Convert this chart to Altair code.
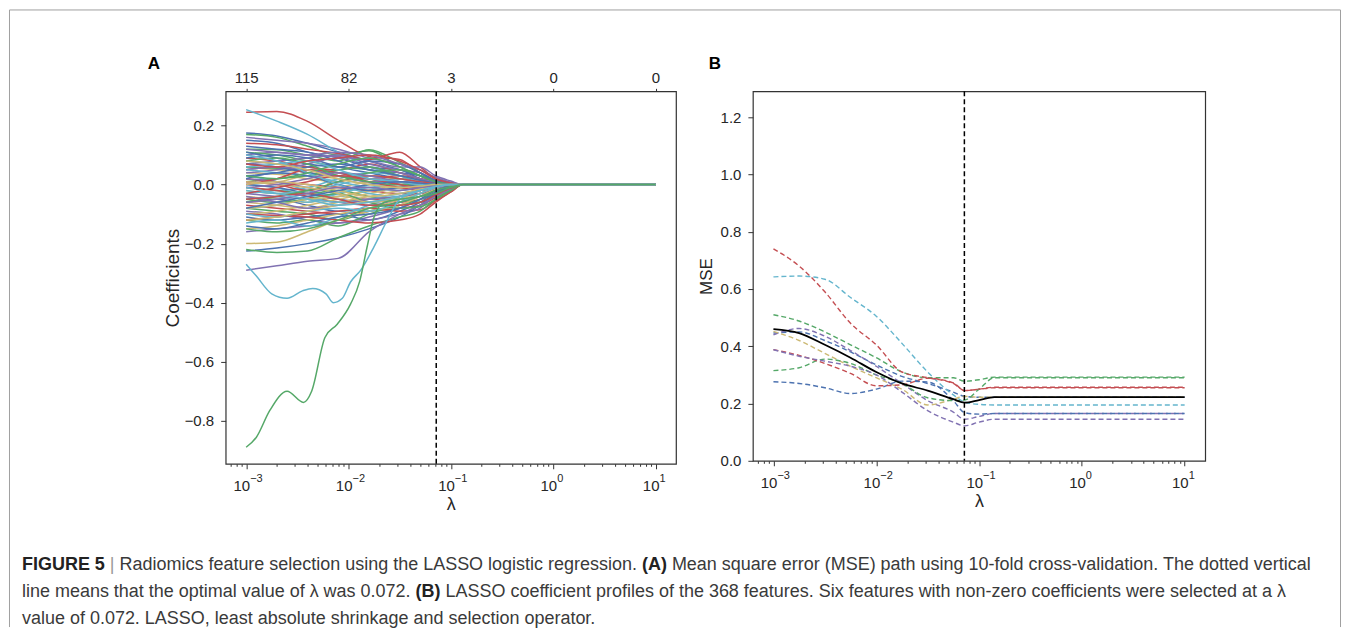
import altair as alt
import pandas as pd

# ---------------------------------------------------------------- data
PALETTE = ["#4C72B0", "#55A868", "#C44E52", "#8172B2", "#CCB974", "#64B5CD"]
DECADES = [0.001, 0.01, 0.1, 1, 10]
EXPONENTS = ["−3", "−2", "−1", "0", "1"]
TOP_COUNTS = ["115", "82", "3", "0", "0"]
LAMBDA_OPT = 0.072

# Panel A: coefficient paths, log10(lambda) grid shared by most paths
LOG_GRID_A = [-3.0, -2.7, -2.4, -2.1, -1.8, -1.5, -1.3, -1.15, -1.0, -0.88, 1.0]
COEF_PATHS = [
    [0.175, 0.165, 0.140, 0.110, 0.080, 0.050, 0.030, 0.010, 0.003, 0.0, 0.0],
    [0.170, 0.160, 0.130, 0.100, 0.115, 0.060, 0.030, 0.008, 0.002, 0.0, 0.0],
    [0.245, 0.248, 0.214, 0.150, 0.095, 0.085, 0.040, 0.012, 0.004, 0.0, 0.0],
    [0.160, 0.150, 0.140, 0.120, 0.090, 0.070, 0.050, 0.025, 0.008, 0.0, 0.0],
    [0.040, 0.035, 0.020, 0.010, 0.030, 0.020, 0.010, 0.003, 0.000, 0.0, 0.0],
    [0.254, 0.215, 0.170, 0.110, 0.060, 0.030, 0.010, 0.002, 0.000, 0.0, 0.0],
    [0.150, 0.140, 0.110, 0.090, 0.060, 0.050, 0.020, 0.005, 0.000, 0.0, 0.0],
    [0.120, 0.118, 0.100, 0.080, 0.118, 0.075, 0.040, 0.010, 0.002, 0.0, 0.0],
    [0.140, 0.135, 0.120, 0.105, 0.085, 0.110, 0.060, 0.020, 0.005, 0.0, 0.0],
    [0.100, 0.110, 0.100, 0.095, 0.080, 0.060, 0.060, 0.030, 0.012, 0.0, 0.0],
    [0.060, 0.050, 0.040, -0.010, -0.020, -0.010, -0.010, -0.005, 0.000, 0.0, 0.0],
    [0.080, 0.070, 0.060, 0.040, 0.020, 0.000, -0.010, -0.005, 0.000, 0.0, 0.0],
    [0.130, 0.120, 0.110, 0.080, 0.050, 0.040, 0.030, 0.010, 0.002, 0.0, 0.0],
    [0.110, 0.100, 0.080, 0.060, 0.050, 0.030, 0.020, 0.006, 0.000, 0.0, 0.0],
    [0.090, 0.080, 0.060, 0.050, 0.070, 0.040, 0.020, 0.008, 0.002, 0.0, 0.0],
    [0.070, 0.080, 0.090, 0.100, 0.070, 0.050, 0.040, 0.015, 0.004, 0.0, 0.0],
    [0.020, 0.010, 0.030, 0.020, 0.000, -0.010, -0.005, 0.000, 0.000, 0.0, 0.0],
    [0.030, 0.010, -0.020, -0.040, -0.020, 0.010, 0.005, 0.000, 0.000, 0.0, 0.0],
    [0.090, 0.100, 0.090, 0.060, 0.040, 0.020, 0.010, 0.003, 0.000, 0.0, 0.0],
    [0.060, 0.055, 0.050, 0.040, 0.030, 0.020, 0.015, 0.005, 0.000, 0.0, 0.0],
    [0.050, 0.060, 0.040, 0.030, 0.020, 0.030, 0.020, 0.010, 0.003, 0.0, 0.0],
    [0.040, 0.050, 0.070, 0.090, 0.060, 0.040, 0.020, 0.008, 0.002, 0.0, 0.0],
    [-0.020, -0.030, -0.020, -0.010, 0.010, 0.020, 0.010, 0.003, 0.000, 0.0, 0.0],
    [0.000, -0.010, -0.040, -0.030, 0.000, 0.020, 0.010, 0.000, 0.000, 0.0, 0.0],
    [0.070, 0.060, 0.040, 0.030, 0.020, 0.000, -0.010, -0.005, 0.000, 0.0, 0.0],
    [0.010, 0.020, 0.030, 0.050, 0.060, 0.030, 0.010, 0.000, 0.000, 0.0, 0.0],
    [0.020, 0.010, 0.000, -0.010, -0.020, -0.030, -0.030, -0.015, -0.004, 0.0, 0.0],
    [0.020, 0.010, -0.010, -0.030, -0.050, -0.040, -0.020, -0.008, 0.000, 0.0, 0.0],
    [-0.040, -0.050, -0.060, -0.040, -0.020, 0.000, 0.005, 0.000, 0.000, 0.0, 0.0],
    [-0.030, -0.020, -0.010, 0.020, 0.040, 0.030, 0.010, 0.002, 0.000, 0.0, 0.0],
    [0.000, -0.010, -0.030, -0.050, -0.060, -0.040, -0.030, -0.010, -0.002, 0.0, 0.0],
    [-0.010, -0.020, -0.030, -0.020, -0.040, -0.050, -0.060, -0.030, -0.010, 0.0, 0.0],
    [-0.010, -0.020, -0.040, -0.060, -0.050, -0.060, -0.050, -0.030, -0.010, 0.0, 0.0],
    [-0.030, -0.040, -0.050, -0.060, -0.070, -0.050, -0.040, -0.020, -0.006, 0.0, 0.0],
    [-0.060, -0.070, -0.080, -0.060, -0.040, -0.020, -0.010, -0.003, 0.000, 0.0, 0.0],
    [-0.050, -0.040, -0.060, -0.030, -0.010, 0.000, 0.000, 0.000, 0.000, 0.0, 0.0],
    [-0.060, -0.050, -0.070, -0.090, -0.080, -0.060, -0.040, -0.015, -0.004, 0.0, 0.0],
    [-0.080, -0.090, -0.100, -0.120, -0.090, -0.070, -0.050, -0.030, -0.010, 0.0, 0.0],
    [-0.070, -0.080, -0.090, -0.100, -0.090, -0.080, -0.070, -0.045, -0.020, 0.0, 0.0],
    [-0.090, -0.100, -0.120, -0.130, -0.110, -0.080, -0.050, -0.020, -0.005, 0.0, 0.0],
    [-0.100, -0.090, -0.070, -0.050, -0.030, -0.010, 0.000, 0.000, 0.000, 0.0, 0.0],
    [-0.080, -0.070, -0.050, -0.060, -0.050, -0.030, -0.020, -0.008, 0.000, 0.0, 0.0],
    [-0.110, -0.120, -0.110, -0.100, -0.120, -0.090, -0.060, -0.025, -0.008, 0.0, 0.0],
    [-0.120, -0.130, -0.120, -0.140, -0.100, -0.070, -0.060, -0.040, -0.015, 0.0, 0.0],
    [-0.120, -0.110, -0.100, -0.090, -0.080, -0.090, -0.085, -0.055, -0.025, 0.0, 0.0],
    [-0.160, -0.150, -0.140, -0.130, -0.120, -0.100, -0.080, -0.035, -0.012, 0.0, 0.0],
    [-0.150, -0.140, -0.120, -0.100, -0.080, -0.050, -0.020, -0.005, 0.000, 0.0, 0.0],
    [-0.130, -0.120, -0.140, -0.110, -0.070, -0.040, -0.020, -0.005, 0.000, 0.0, 0.0],
    [-0.225, -0.215, -0.200, -0.180, -0.150, -0.110, -0.070, -0.030, -0.010, 0.0, 0.0],
    [-0.220, -0.230, -0.225, -0.180, -0.140, -0.110, -0.090, -0.050, -0.020, 0.0, 0.0],
    [-0.100, -0.105, -0.110, -0.120, -0.130, -0.120, -0.100, -0.060, -0.025, 0.0, 0.0],
    [-0.290, -0.275, -0.260, -0.250, -0.160, -0.100, -0.070, -0.040, -0.015, 0.0, 0.0],
    [-0.200, -0.195, -0.160, -0.120, -0.090, -0.070, -0.040, -0.015, -0.004, 0.0, 0.0],
    [-0.020, -0.030, -0.020, 0.000, 0.020, 0.010, 0.000, 0.000, 0.000, 0.0, 0.0],
    [0.030, 0.040, 0.060, 0.070, 0.050, 0.030, 0.015, 0.005, 0.000, 0.0, 0.0],
    [-0.050, -0.060, -0.050, -0.030, -0.060, -0.080, -0.075, -0.050, -0.020, 0.0, 0.0],
    [0.010, 0.000, -0.020, 0.010, 0.030, 0.020, 0.010, 0.003, 0.000, 0.0, 0.0],
    [0.050, 0.060, 0.050, 0.030, 0.010, 0.010, 0.005, 0.000, 0.000, 0.0, 0.0],
    [-0.080, -0.070, -0.050, -0.040, -0.020, -0.010, 0.000, 0.000, 0.000, 0.0, 0.0],
    [0.050, 0.040, 0.030, 0.010, -0.010, -0.020, -0.010, -0.003, 0.000, 0.0, 0.0],
    [0.020, 0.040, 0.030, 0.000, -0.020, -0.010, 0.000, 0.000, 0.000, 0.0, 0.0],
    [-0.060, -0.040, -0.020, 0.010, 0.040, 0.050, 0.030, 0.010, 0.002, 0.0, 0.0],
    [0.000, 0.020, 0.050, 0.040, 0.010, -0.010, -0.020, -0.010, -0.003, 0.0, 0.0],
    [-0.040, -0.060, -0.080, -0.070, -0.050, -0.040, -0.030, -0.012, -0.003, 0.0, 0.0],
    [0.010, 0.000, -0.010, -0.030, -0.060, -0.050, -0.030, -0.010, 0.000, 0.0, 0.0],
    [-0.100, -0.110, -0.090, -0.080, -0.090, -0.060, -0.030, -0.010, 0.000, 0.0, 0.0],
    [0.110, 0.090, 0.070, 0.060, 0.080, 0.070, 0.040, 0.015, 0.004, 0.0, 0.0],
    [0.080, 0.090, 0.070, 0.030, 0.010, 0.000, 0.000, 0.000, 0.000, 0.0, 0.0],
    [-0.030, -0.010, 0.010, 0.030, 0.020, 0.000, -0.010, -0.005, 0.000, 0.0, 0.0],
    [0.120, 0.110, 0.100, 0.110, 0.100, 0.070, 0.050, 0.022, 0.006, 0.0, 0.0],
    [-0.120, -0.110, -0.090, -0.070, -0.060, -0.040, -0.020, -0.006, 0.000, 0.0, 0.0],
    [0.100, 0.080, 0.040, 0.000, -0.030, -0.040, -0.020, -0.005, 0.000, 0.0, 0.0],
    [-0.140, -0.150, -0.130, -0.110, -0.100, -0.080, -0.050, -0.020, -0.005, 0.0, 0.0],
    [0.030, 0.020, 0.040, 0.070, 0.090, 0.060, 0.030, 0.010, 0.002, 0.0, 0.0],
    [-0.050, -0.040, -0.030, -0.050, -0.070, -0.070, -0.060, -0.035, -0.012, 0.0, 0.0],
    [-0.010, 0.000, 0.020, 0.040, 0.030, 0.010, 0.000, 0.000, 0.000, 0.0, 0.0],
    [0.000, 0.010, 0.000, -0.020, -0.040, -0.030, -0.015, -0.005, 0.000, 0.0, 0.0],
    [0.060, 0.070, 0.080, 0.050, 0.020, 0.010, 0.000, 0.000, 0.000, 0.0, 0.0],
    [-0.080, -0.060, -0.040, -0.020, 0.000, 0.010, 0.005, 0.000, 0.000, 0.0, 0.0],
    [-0.150, -0.160, -0.150, -0.120, -0.080, -0.060, -0.040, -0.020, -0.006, 0.0, 0.0],
    [0.070, 0.060, 0.080, 0.090, 0.100, 0.080, 0.050, 0.020, 0.006, 0.0, 0.0],
    [-0.060, -0.050, -0.030, -0.010, -0.010, -0.020, -0.010, -0.004, 0.000, 0.0, 0.0],
    [0.080, 0.070, 0.050, 0.020, 0.000, -0.010, -0.005, 0.000, 0.000, 0.0, 0.0],
    [-0.010, -0.030, -0.050, -0.070, -0.060, -0.040, -0.020, -0.006, 0.000, 0.0, 0.0],
]
# the two paths that dip far below the bundle
GREEN_LOG = [-3.0, -2.9, -2.77, -2.6, -2.44, -2.36, -2.23, -2.11, -1.98, -1.89,
             -1.82, -1.75, -1.65, -1.5, -1.3, -1.15, -1.0, -0.88, 1.0]
GREEN_COEF = [-0.89, -0.856, -0.766, -0.70, -0.738, -0.70, -0.518, -0.473, -0.405, -0.327,
              -0.214, -0.11, -0.06, -0.05, -0.04, -0.03, -0.01, 0.0, 0.0]
CYAN_LOG = [-3.0, -2.9, -2.75, -2.6, -2.45, -2.35, -2.22, -2.15, -2.06, -1.98,
            -1.88, -1.75, -1.62, -1.5, -1.3, -1.15, -1.0, -0.88, 1.0]
CYAN_COEF = [-0.27, -0.31, -0.37, -0.385, -0.36, -0.352, -0.37, -0.40, -0.385, -0.33,
             -0.29, -0.21, -0.12, -0.05, -0.02, -0.008, 0.0, 0.0, 0.0]

# Panel B: 10 cross-validation folds + mean
LOG_GRID_B = [-3.0, -2.75, -2.5, -2.25, -2.0, -1.75, -1.5, -1.25, -1.14, -1.0, -0.85, 1.0]
FOLD_COLORS = [0, 1, 2, 3, 4, 5, 0, 1, 2, 3]
FOLD_MSE = [
    [0.446, 0.450, 0.420, 0.380, 0.335, 0.295, 0.270, 0.240, 0.225, 0.222, 0.222, 0.222],
    [0.510, 0.488, 0.450, 0.405, 0.360, 0.310, 0.290, 0.290, 0.278, 0.283, 0.292, 0.292],
    [0.740, 0.680, 0.590, 0.480, 0.405, 0.310, 0.290, 0.270, 0.245, 0.250, 0.255, 0.255],
    [0.440, 0.462, 0.435, 0.385, 0.330, 0.270, 0.210, 0.170, 0.145, 0.155, 0.165, 0.165],
    [0.452, 0.420, 0.375, 0.330, 0.290, 0.250, 0.195, 0.215, 0.225, 0.222, 0.222, 0.222],
    [0.642, 0.645, 0.634, 0.570, 0.505, 0.410, 0.310, 0.230, 0.205, 0.197, 0.195, 0.195],
    [0.276, 0.270, 0.255, 0.235, 0.250, 0.278, 0.275, 0.210, 0.168, 0.163, 0.165, 0.165],
    [0.315, 0.325, 0.355, 0.340, 0.300, 0.270, 0.220, 0.210, 0.212, 0.250, 0.290, 0.290],
    [0.388, 0.368, 0.340, 0.305, 0.262, 0.265, 0.288, 0.272, 0.245, 0.250, 0.257, 0.257],
    [0.388, 0.365, 0.348, 0.330, 0.300, 0.240, 0.175, 0.135, 0.122, 0.135, 0.145, 0.145],
]
MEAN_MSE = [0.460, 0.446, 0.405, 0.360, 0.310, 0.270, 0.245, 0.215, 0.203, 0.212, 0.222, 0.222]

CAPTION = [
    [("FIGURE 5", True), ("|", False),
     ("Radiomics feature selection using the LASSO logistic regression.", False),
     ("(A)", True),
     ("Mean square error (MSE) path using 10-fold cross-validation. The dotted vertical", False)],
    [("line means that the optimal value of λ was 0.072.", False), ("(B)", True),
     ("LASSO coefficient profiles of the 368 features. Six features with non-zero "
      "coefficients were selected at a λ", False)],
    [("value of 0.072. LASSO, least absolute shrinkage and selection operator.", False)],
]

# ---------------------------------------------------------------- layout
FONT = "Liberation Sans"
TXT = "#262626"
A_LEFT, A_TOP = 225, 90          # page position of panel A plot area
A_W, A_H = 451, 373
B_LEFT = 753
B_W, B_H = 453, 370
BORDER_L, BORDER_R, BORDER_T, BORDER_B = 8.5, 1341.5, 8.5, 626.5
CAP_X0, CAP_Y0, CAP_DY, CAP_FS = 21, 564, 27, 18
LABEL_FS = 15

# Arial / Liberation Sans advance widths (1/1000 em)
_REG = {" ": 278, "(": 333, ")": 333, ",": 278, "-": 333, ".": 278, "|": 260, "λ": 500}
_REG.update({d: 556 for d in "0123456789"})
_REG.update(dict(zip("ABCDEFGHIJKLMNOPQRSTUVWXYZ",
                     [667, 667, 722, 722, 667, 611, 778, 722, 278, 500, 667, 556, 833,
                      722, 778, 667, 778, 722, 667, 611, 722, 667, 944, 667, 667, 611])))
_REG.update(dict(zip("abcdefghijklmnopqrstuvwxyz",
                     [556, 556, 500, 556, 556, 278, 556, 556, 222, 222, 500, 222, 833,
                      556, 556, 556, 556, 333, 500, 278, 556, 500, 722, 500, 500, 500])))
_BOLD = dict(_REG)
_BOLD.update({"A": 722, "B": 722, "F": 611, "I": 278, "G": 778, "U": 722, "R": 722,
              "E": 667, "(": 333, ")": 333})


def text_width(s, bold):
    table = _BOLD if bold else _REG
    return sum(table.get(ch, 556) for ch in s) * CAP_FS / 1000.0


# ---------------------------------------------------------------- frames
rows_a = []
for i, vals in enumerate(COEF_PATHS):
    for lx, v in zip(LOG_GRID_A, vals):
        rows_a.append({"path": f"p{i:03d}", "lam": 10 ** lx, "coef": v, "c": i % 6})
for name, lxs, vals, c in [("zcyan", CYAN_LOG, CYAN_COEF, 5), ("zgreen", GREEN_LOG, GREEN_COEF, 1)]:
    for lx, v in zip(lxs, vals):
        rows_a.append({"path": name, "lam": 10 ** lx, "coef": v, "c": c})
df_a = pd.DataFrame(rows_a)

rows_b = []
for i, (c, vals) in enumerate(zip(FOLD_COLORS, FOLD_MSE)):
    for lx, v in zip(LOG_GRID_B, vals):
        rows_b.append({"fold": f"f{i}", "lam": 10 ** lx, "mse": v, "c": c})
df_b = pd.DataFrame(rows_b)
df_mean = pd.DataFrame({"lam": [10 ** lx for lx in LOG_GRID_B], "mse": MEAN_MSE})
df_opt = pd.DataFrame({"lam": [LAMBDA_OPT]})
df_dec = pd.DataFrame({"lam": DECADES, "base": ["10"] * len(DECADES), "exp": EXPONENTS})

# ---------------------------------------------------------------- axes
minor = [k * 10 ** d for d in range(-4, 2) for k in range(2, 10)
         if 10 ** -3.2 <= k * 10 ** d <= 10 ** 1.2]
tick_vals = sorted(DECADES + minor)
dec = "round(log(datum.value)/LN10)"
isdec = f"abs(log(datum.value)/LN10 - {dec}) < 0.001"
top_expr = "''"
for v, s in zip(DECADES[::-1], TOP_COUNTS[::-1]):
    top_expr = f"(abs(datum.value - {v}) < {v}*0.01 ? '{s}' : {top_expr})"

xscale = alt.Scale(type="log", domain=[10 ** -3.2, 10 ** 1.2], nice=False)
color_scale = alt.Scale(domain=list(range(6)), range=PALETTE)


def x_axis():
    return alt.Axis(values=tick_vals, labelExpr="''", title="λ",
                    tickSize={"condition": {"test": isdec, "value": 5}, "value": 2.5},
                    labelFlush=False, labelOverlap=False,
                    titleY=41, titleBaseline="middle", titleFontSize=18)


def decade_labels(h):
    base = alt.Chart(df_dec).mark_text(
        align="right", baseline="middle", dx=4, font=FONT, fontSize=LABEL_FS, color=TXT
    ).encode(x=alt.X("lam:Q", scale=xscale, axis=None), y=alt.value(h + 22), text="base:N")
    expo = alt.Chart(df_dec).mark_text(
        align="left", baseline="middle", dx=4, font=FONT, fontSize=11, color=TXT
    ).encode(x=alt.X("lam:Q", scale=xscale, axis=None), y=alt.value(h + 15), text="exp:N")
    return [base, expo]


# ---------------------------------------------------------------- panel A
lines_a = alt.Chart(df_a).mark_line(interpolate="monotone", strokeWidth=1.5).encode(
    x=alt.X("lam:Q", scale=xscale, axis=x_axis()),
    y=alt.Y("coef:Q", scale=alt.Scale(domain=[-0.946, 0.316], nice=False, zero=False),
            axis=alt.Axis(values=[-0.8, -0.6, -0.4, -0.2, 0.0, 0.2], format=".1f",
                          labelPadding=7,
                          title="Coefficients", titleX=-53, titleY=A_H / 2,
                          titleAngle=-90, titleBaseline="middle", titleAlign="center",
                          titleFontSize=19)),
    color=alt.Color("c:N", scale=color_scale, legend=None),
    detail="path:N",
)
rule_a = alt.Chart(df_opt).mark_rule(color="black", strokeWidth=1.5, strokeDash=[5, 3]).encode(
    x=alt.X("lam:Q", scale=xscale,
            axis=alt.Axis(orient="top", values=DECADES, labelExpr=top_expr, tickSize=3,
                          labelPadding=3, labelFlush=False, labelOverlap=False, title=None))
)


def label_layer(txt, px, py, bold, size, color, ox, oy, align="left"):
    return alt.Chart(pd.DataFrame({"t": [txt]})).mark_text(
        align=align, baseline="middle", font=FONT,
        fontSize=size, fontWeight="bold" if bold else "normal", color=color
    ).encode(x=alt.value(px - ox), y=alt.value(py - oy), text="t:N")


extras_a = [label_layer("A", 153, 63, True, 17, "black", A_LEFT, A_TOP, "center")]
for li, segs in enumerate(CAPTION):
    x = CAP_X0
    for s, bold in segs:
        col = "#999999" if s == "|" else ("#222222" if bold else "#3a3a3a")
        extras_a.append(label_layer(s, x, CAP_Y0 + li * CAP_DY, bold, CAP_FS, col, A_LEFT, A_TOP))
        x += text_width(s, bold) + text_width(" ", False)

one = pd.DataFrame({"k": [0]})
bc = "#a0a0a0"
borders = [
    alt.Chart(one).mark_rule(color=bc, strokeWidth=1).encode(
        x=alt.value(BORDER_L - A_LEFT), x2=alt.value(BORDER_R - A_LEFT),
        y=alt.value(BORDER_T - A_TOP)),
    alt.Chart(one).mark_rule(color=bc, strokeWidth=1).encode(
        x=alt.value(BORDER_L - A_LEFT), y=alt.value(BORDER_T - A_TOP),
        y2=alt.value(BORDER_B - A_TOP)),
    alt.Chart(one).mark_rule(color=bc, strokeWidth=1).encode(
        x=alt.value(BORDER_R - A_LEFT), y=alt.value(BORDER_T - A_TOP),
        y2=alt.value(BORDER_B - A_TOP)),
]

panel_a = alt.layer(lines_a, rule_a, *decade_labels(A_H), *extras_a, *borders).resolve_axis(
    x="independent", y="independent").properties(width=A_W, height=A_H)

# ---------------------------------------------------------------- panel B
folds = alt.Chart(df_b).mark_line(interpolate="monotone", strokeWidth=1.4,
                                  strokeDash=[5, 3]).encode(
    x=alt.X("lam:Q", scale=xscale, axis=x_axis()),
    y=alt.Y("mse:Q", scale=alt.Scale(domain=[0, 1.29], nice=False),
            axis=alt.Axis(values=[0.0, 0.2, 0.4, 0.6, 0.8, 1.0, 1.2], format=".1f",
                          labelPadding=7,
                          title="MSE", titleX=-46, titleY=B_H / 2, titleAngle=-90,
                          titleBaseline="middle", titleAlign="center", titleFontSize=17)),
    color=alt.Color("c:N", scale=color_scale, legend=None),
    detail="fold:N",
)
mean_line = alt.Chart(df_mean).mark_line(interpolate="monotone", color="black",
                                         strokeWidth=1.8).encode(
    x=alt.X("lam:Q", scale=xscale, axis=None),
    y=alt.Y("mse:Q", axis=None),
)
rule_b = alt.Chart(df_opt).mark_rule(color="black", strokeWidth=1.5, strokeDash=[5, 3]).encode(
    x=alt.X("lam:Q", scale=xscale, axis=None)
)
letter_b = label_layer("B", 715, 63, True, 17, "black", B_LEFT, A_TOP, "center")

panel_b = alt.layer(folds, mean_line, rule_b, *decade_labels(B_H), letter_b).resolve_axis(
    x="independent", y="independent").properties(width=B_W, height=B_H)

chart = alt.hconcat(panel_a, panel_b, spacing=B_LEFT - A_LEFT - A_W, bounds="flush").properties(
    padding=0, background="white"
).configure(font=FONT).configure_view(
    stroke="#333333", strokeWidth=1.2
).configure_axis(
    domain=False, grid=False, tickColor="#333333", tickWidth=1,
    labelFont=FONT, labelFontSize=LABEL_FS, labelColor=TXT,
    titleFont=FONT, titleColor=TXT, titleFontWeight="normal",
)

chart.save("out.html", embed_options={"renderer": "svg", "actions": False})
